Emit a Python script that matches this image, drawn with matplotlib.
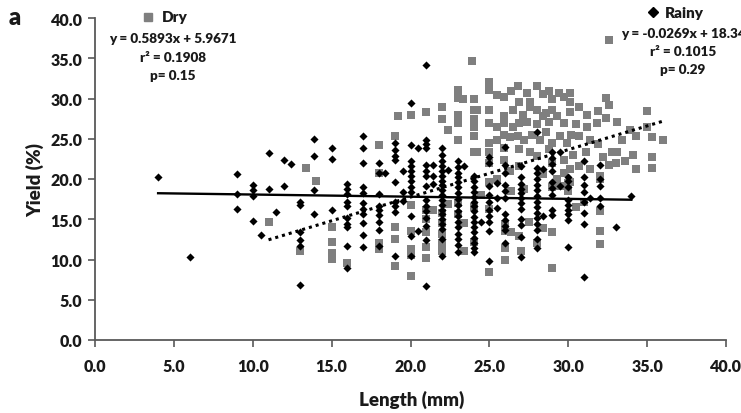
import matplotlib
matplotlib.use("Agg")
import matplotlib.pyplot as plt
import numpy as np

plt.rcParams['font.family'] = ['Lato', 'DejaVu Sans']

# ---- Rainy season (black diamonds) ----
rainy_len = (
    [4] + [6] + [9]*3 + [10]*4 + [10.5] + [11]*2 + [11.5] + [12]*2 + [12.4]
    + [13]*6 + [13.9]*4 + [15]*3 + [16]*10 + [17]*11 + [18]*9 + [18.4]
    + [19]*9 + [19.5]*3 + [20]*12 + [20.5]*2 + [21]*15 + [21.4]*3 + [22]*19
    + [22.4] + [23]*17 + [23.4] + [24]*16 + [24.5] + [25]*10 + [25.5]*3
    + [26]*11 + [27]*12 + [28]*15 + [28.4]*2 + [29]*9 + [29.5]*2 + [30]*9
    + [31]*8 + [31.4] + [32]*5 + [33] + [34]
)
rainy_yield = (
    [20.3] + [10.3] + [20.6, 18.1, 16.3] + [19.3, 18.6, 17.9, 14.8] + [13.0]
    + [23.2, 18.8] + [15.9] + [22.3, 19.1] + [21.9]
    + [17.1, 16.8, 13.4, 12.4, 11.7, 6.8]
    + [25.0, 22.9, 18.6, 15.6]
    + [23.9, 22.5, 16.1]
    + [19.4, 18.8, 18.1, 17.2, 16.6, 15.2, 14.4, 14.0, 11.7, 8.9]
    + [25.3, 23.9, 22.0, 19.0, 18.3, 17.0, 16.3, 15.6, 14.5, 13.1, 11.5]
    + [22.0, 20.8, 18.1, 16.7, 16.1, 15.5, 14.6, 13.7, 11.7]
    + [20.7]
    + [24.5, 23.6, 22.8, 22.4, 19.6, 17.1, 16.7, 15.9, 10.4]
    + [21.0, 18.4, 17.3]
    + [29.5, 24.2, 22.2, 21.6, 21.0, 20.4, 19.8, 19.0, 18.4, 15.4, 12.9, 10.4]
    + [23.8, 13.5]
    + [34.1, 24.9, 24.4, 23.8, 21.7, 21.0, 20.4, 19.1, 17.4, 16.6, 16.0, 15.1, 14.1, 12.4, 6.7]
    + [21.8, 20.4, 19.4]
    + [23.9, 23.0, 22.2, 21.6, 21.0, 20.4, 19.8, 19.2, 18.6, 18.0, 17.4, 16.8,
       16.2, 15.6, 15.0, 14.4, 13.8, 12.6, 10.4]
    + [21.1]
    + [22.2, 21.5, 20.8, 20.2, 19.6, 19.0, 18.2, 17.5, 16.8, 16.0, 15.4, 14.6,
       14.0, 13.2, 12.5, 11.8, 10.9]
    + [21.6]
    + [20.4, 19.7, 19.0, 18.4, 17.8, 17.2, 16.6, 16.0, 15.3, 14.7, 14.0, 13.4,
       12.7, 12.0, 11.4, 10.9]
    + [14.7]
    + [22.7, 22.0, 19.1, 18.0, 17.2, 16.2, 15.4, 14.6, 13.6, 9.8]
    + [19.5, 17.6, 16.4]
    + [24.0, 21.8, 20.7, 19.3, 18.5, 17.7, 15.6, 14.9, 14.2, 13.7, 12.1]
    + [21.6, 20.2, 19.4, 18.8, 18.2, 17.6, 17.0, 16.3, 15.0, 14.3, 12.8, 10.3]
    + [25.9, 21.4, 20.7, 20.0, 19.3, 18.6, 17.9, 17.2, 16.5, 15.8, 15.1, 14.4,
       13.7, 12.5, 11.4]
    + [21.2, 15.4]
    + [23.3, 22.6, 21.9, 21.0, 19.6, 18.9, 18.0, 16.1, 15.5]
    + [23.3, 19.1]
    + [20.2, 19.7, 19.0, 17.4, 16.8, 16.2, 15.6, 14.9, 11.5]
    + [22.2, 20.2, 19.3, 18.4, 17.2, 15.8, 14.4, 7.8]
    + [17.6]
    + [21.8, 20.0, 19.1, 17.6, 16.7]
    + [14.0]
    + [17.9]
)

# ---- Dry season (grey squares) ----
dry_len = [
    11, 13, 13.4, 14, 15, 15, 15, 15, 16, 18, 18, 18, 18, 19, 19, 19, 19, 19.2,
    20, 20, 20, 20, 20, 20, 21, 21, 21, 21, 21, 21, 21.4, 22, 22, 22, 22, 22,
    22, 22, 22.4, 22.4, 23, 23, 23, 23, 23, 23, 23, 23.3, 23.4, 23.4, 23.9,
    24, 24, 24, 24, 24, 24, 24, 24, 24, 24.2, 24.2, 24.5,
    25, 25, 25, 25, 25, 25, 25, 25, 25, 25, 25.5, 25.5, 25.5, 25.5,
    25.9, 25.9, 25.9, 25.9, 25.9, 25.9, 26, 26, 26, 26,
    26.3, 26.3, 26.4, 26.4, 26.4, 26.5, 26.5, 26.8, 26.8,
    26.9, 26.9, 26.9, 26.9, 26.9, 27, 27.1, 27.2, 27.2, 27.4, 27.4, 27.5,
    27.6, 27.6, 27.6, 27.7, 28, 28, 28, 28, 28, 28.2, 28.4, 28.4, 28.4, 28.4,
    28.6, 28.6, 28.8, 28.8, 28.8, 29, 29, 29, 29, 29, 29, 29, 29.3, 29.3,
    29.4, 29.5, 29.5, 29.7, 29.7, 29.7, 29.7, 29.9,
    30, 30, 30.1, 30.1, 30.1, 30.1, 30.1, 30.2, 30.3, 30.5, 30.5, 30.7, 30.7,
    30.7, 31, 31.1, 31.2, 31.2, 31.4, 31.4, 31.8, 31.9, 31.9, 32, 32, 32, 32,
    32, 32.2, 32.4, 32.4, 32.6, 32.6, 32.6, 32.8, 33, 33.1, 33.1, 33.4, 33.6,
    33.9, 34.1, 34.3, 34.3, 35, 35, 35.3, 35.3, 35.3, 36,
]
dry_yield = [
    14.6, 11.0, 21.4, 19.7, 14.0, 12.2, 10.8, 10.1, 9.6, 24.2, 20.8, 12.1, 11.3,
    25.3, 14.0, 12.6, 9.2, 27.8,
    28.0, 16.8, 13.5, 11.3, 10.5, 8.0, 28.3, 16.2, 15.0, 13.4, 11.5, 10.2, 16.2,
    29.0, 27.4, 15.8, 14.5, 13.2, 12.0, 11.0, 26.1, 16.9,
    31.1, 30.1, 28.0, 27.0, 24.9, 17.0, 15.6, 29.9, 14.5, 11.1, 34.6,
    29.9, 28.6, 27.5, 26.5, 25.3, 23.4, 16.5, 12.2, 27.0, 28.6, 23.3, 18.0,
    32.1, 31.1, 28.6, 27.0, 24.5, 23.4, 22.0, 19.6, 16.3, 8.5, 30.4, 26.5, 24.9, 20.0,
    30.2, 27.8, 27.0, 25.5, 23.9, 22.4, 14.4, 13.6, 11.4, 9.9,
    25.2, 21.0, 30.9, 18.5, 13.4, 28.6, 26.4, 31.6, 25.3,
    29.6, 27.0, 23.7, 21.6, 12.9, 11.0, 28.0, 24.9, 18.7, 30.7, 27.1, 14.6,
    29.6, 28.9, 23.4, 25.5, 31.5, 28.6, 26.8, 22.8, 12.1, 24.9, 30.5, 27.8, 20.6, 13.9,
    28.2, 25.9, 30.9, 27.1, 23.7, 29.9, 28.6, 24.5, 22.0, 19.0, 13.4, 9.0, 27.8, 20.0,
    30.7, 25.3, 19.1, 30.2, 27.0, 22.4, 20.8, 24.5,
    19.5, 18.5, 30.7, 29.6, 28.3, 21.2, 19.6, 25.5, 23.0, 26.8, 16.5, 28.9, 25.3,
    21.6, 17.2, 23.4, 28.0, 26.5, 24.9, 21.2, 27.0, 28.4, 24.3, 20.0, 20.4, 16.0,
    13.5, 11.9, 22.7, 30.1, 27.6, 37.3, 29.2, 21.8, 23.3, 22.0, 27.1, 23.4, 24.9,
    22.2, 26.1, 23.0, 25.3, 21.2, 28.4, 26.4, 25.2, 22.7, 21.4, 24.9,
]

# Regression equations shown on the chart
dry_slope, dry_intercept = 0.5893, 5.9671
rainy_slope, rainy_intercept = -0.0269, 18.34

x_ticks = [0, 5, 10, 15, 20, 25, 30, 35, 40]
y_ticks = [0, 5, 10, 15, 20, 25, 30, 35, 40]

W, H = 741, 414
fig = plt.figure(figsize=(W / 100, H / 100), dpi=100)
ax = fig.add_axes([95 / W, 1 - 341 / H, (726 - 95) / W, (341 - 19) / H])

grey = '#7f7f7f'
txt = '#1a1a1a'
ax.scatter(dry_len, dry_yield, marker='s', s=30, color=grey, linewidths=0, zorder=2)
ax.scatter(rainy_len, rainy_yield, marker='D', s=17, color='black', linewidths=0, zorder=3)

xd = np.array([min(dry_len), max(dry_len)])
ax.plot(xd, dry_slope * xd + dry_intercept, color='black', lw=2.2,
        linestyle=(0, (1, 1.3)), zorder=4)
xr = np.array([min(rainy_len), max(rainy_len)])
ax.plot(xr, rainy_slope * xr + rainy_intercept, color='black', lw=1.7, zorder=4)

ax.set_xlim(0, 40)
ax.set_ylim(0, 40)
ax.set_xticks(x_ticks)
ax.set_yticks(y_ticks)
ax.set_xticklabels([f"{v:.1f}" for v in x_ticks])
ax.set_yticklabels([f"{v:.1f}" for v in y_ticks])
for lab in ax.get_xticklabels() + ax.get_yticklabels():
    lab.set_fontweight('heavy')
    lab.set_fontsize(11.5)
    lab.set_color(txt)
for s in ['top', 'right']:
    ax.spines[s].set_visible(False)
for s in ['left', 'bottom']:
    ax.spines[s].set_color('#595959')
    ax.spines[s].set_linewidth(1.3)
ax.tick_params(direction='out', length=5, width=1.2, color='#595959', pad=4)
ax.tick_params(axis='x', pad=8)

fig.text(412 / W, 1 - 400 / H, 'Length (mm)', ha='center', va='center',
         fontsize=13.5, fontweight='heavy', color=txt)
fig.text(35 / W, 1 - 180 / H, 'Yield (%)', ha='center', va='center', rotation=90,
         fontsize=13.5, fontweight='heavy', color=txt)
fig.text(15 / W, 1 - 18 / H, 'a', ha='center', va='center', fontsize=17,
         fontweight='heavy', color=txt)

# Dry annotation
fig.add_artist(plt.Line2D([148 / W], [1 - 18 / H], marker='s', markersize=6,
                          color=grey, linestyle='none', transform=fig.transFigure))
fig.text(162 / W, 1 - 18 / H, 'Dry', ha='left', va='center', fontsize=11,
         fontweight='heavy', color=txt)
fig.text(173 / W, 1 - 39 / H, 'y = 0.5893x + 5.9671', ha='center', va='center',
         fontsize=9.7, fontweight='heavy', color=txt)
fig.text(173 / W, 1 - 58 / H, 'r² = 0.1908', ha='center', va='center',
         fontsize=9.7, fontweight='heavy', color=txt)
fig.text(173 / W, 1 - 76 / H, 'p= 0.15', ha='center', va='center',
         fontsize=9.7, fontweight='heavy', color=txt)

# Rainy annotation
fig.add_artist(plt.Line2D([653 / W], [1 - 13 / H], marker='D', markersize=5,
                          color='black', linestyle='none', transform=fig.transFigure))
fig.text(665 / W, 1 - 14 / H, 'Rainy', ha='left', va='center', fontsize=11,
         fontweight='heavy', color=txt)
fig.text(683 / W, 1 - 34 / H, 'y = -0.0269x + 18.34', ha='center', va='center',
         fontsize=9.7, fontweight='heavy', color=txt)
fig.text(683 / W, 1 - 52 / H, 'r² = 0.1015', ha='center', va='center',
         fontsize=9.7, fontweight='heavy', color=txt)
fig.text(683 / W, 1 - 70 / H, 'p= 0.29', ha='center', va='center',
         fontsize=9.7, fontweight='heavy', color=txt)

fig.savefig('out.png', dpi=100)
